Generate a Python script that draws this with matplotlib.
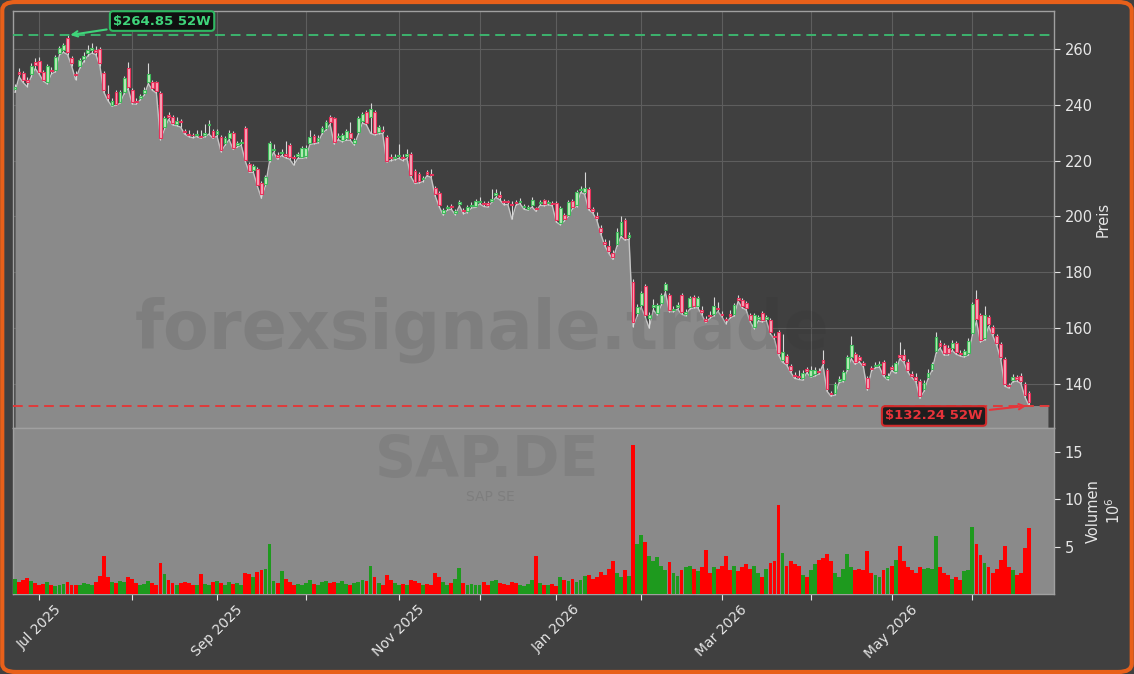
import matplotlib
matplotlib.use("Agg")
import matplotlib.pyplot as plt
from matplotlib.patches import FancyBboxPatch
import numpy as np

opens = [245.5,251.8,251.5,249.0,251.0,255.3,255.7,251.7,248.2,252.3,252.5,258.6,259.6,264.0,256.7,251.0,254.0,256.5,258.5,259.5,
259.5,260.0,251.4,244.0,240.0,244.6,241.0,244.6,253.2,245.3,241.5,242.5,244.2,248.2,248.0,248.0,244.2,232.0,236.3,235.6,
233.1,234.3,230.6,229.5,229.3,229.3,228.7,229.0,232.8,230.6,229.7,228.5,226.3,228.0,229.9,225.6,226.2,231.7,218.8,216.5,
217.0,212.0,211.6,220.2,223.8,222.0,222.8,222.2,225.6,221.3,221.5,221.3,221.5,226.3,228.8,227.0,230.3,231.7,235.6,235.3,
228.3,227.4,228.0,229.9,226.3,230.3,234.2,237.4,235.6,237.4,230.3,231.0,228.5,221.3,221.0,221.5,221.3,221.5,222.4,216.3,
215.2,213.3,215.8,215.2,210.2,208.4,201.1,203.0,203.8,201.2,204.6,202.3,202.0,203.8,203.7,205.3,204.7,204.7,205.5,207.5,
207.5,205.3,205.2,204.5,205.2,205.3,203.3,202.8,204.0,202.9,204.8,205.8,204.8,204.8,204.8,197.6,200.5,200.5,205.5,204.0,
209.5,208.7,209.8,202.5,200.3,196.0,190.8,189.5,187.0,190.0,193.5,198.7,192.5,176.5,165.4,168.2,175.0,163.6,167.6,165.4,
169.0,173.6,171.8,166.5,167.6,171.8,165.0,167.5,171.0,168.0,166.5,163.2,164.6,165.0,167.2,165.2,163.2,165.0,165.0,170.8,
170.0,169.0,164.7,160.4,163.3,165.4,163.3,162.9,157.3,158.6,148.5,150.0,146.3,143.2,142.7,142.0,145.3,143.0,143.5,144.8,
148.5,145.0,136.7,136.7,141.2,141.4,145.5,149.6,150.7,149.5,147.4,142.0,145.7,146.5,146.8,147.8,142.2,145.9,144.5,150.2,
150.5,148.0,143.5,142.5,141.0,138.0,142.5,145.5,151.7,154.8,153.9,153.0,152.8,154.8,151.2,150.3,151.0,158.2,170.4,164.7,
156.4,164.0,160.4,157.1,154.3,148.9,139.5,141.5,142.3,143.0,140.0,136.8]

closes = [246.5,251.0,249.0,248.0,254.0,254.3,251.7,249.0,253.9,252.0,257.1,260.3,261.4,259.0,255.0,250.5,256.0,257.5,259.5,260.5,
259.0,255.0,245.3,242.5,241.5,240.3,244.6,249.6,246.4,241.0,241.0,243.2,245.3,251.0,246.0,245.0,228.1,235.3,235.6,233.5,
234.2,234.0,230.3,229.3,229.0,229.7,228.5,229.8,233.2,228.5,230.6,223.8,228.0,229.9,224.5,226.3,226.8,220.2,216.3,218.0,
211.3,208.0,214.1,226.3,224.3,221.3,223.2,221.8,221.3,220.8,222.3,224.5,224.5,228.5,226.7,228.0,231.7,233.8,233.8,226.7,
228.7,229.2,230.6,228.0,227.4,235.3,236.7,233.5,238.5,229.9,232.0,230.5,220.0,220.8,221.3,222.0,220.8,222.3,214.8,212.3,
212.7,213.7,215.3,214.8,208.0,204.1,202.3,203.3,203.3,201.8,205.0,201.8,203.4,204.2,205.5,205.7,204.3,204.0,206.3,208.3,
206.8,205.0,205.0,204.0,204.8,205.7,203.8,203.3,206.0,202.5,205.2,204.4,205.2,204.4,198.7,203.0,199.0,205.2,203.4,208.7,
210.0,210.2,203.0,202.1,199.5,194.5,190.3,187.5,185.5,194.5,198.0,192.2,193.5,162.2,167.5,172.5,164.7,164.7,168.2,168.2,
171.8,175.8,166.5,167.0,168.2,165.7,165.9,170.8,167.9,170.8,165.8,162.7,164.3,168.0,166.8,164.8,162.9,164.3,168.2,170.2,
168.0,167.2,162.9,164.7,163.8,162.9,163.8,158.6,156.8,151.0,151.4,147.5,145.0,142.8,142.3,144.0,144.8,145.0,145.0,144.3,
147.5,138.0,136.3,140.0,141.7,144.2,149.5,153.9,147.8,148.6,146.9,138.5,145.2,146.9,147.2,143.5,142.8,145.5,147.6,149.8,
148.5,145.0,143.0,141.5,135.5,140.5,144.0,147.0,156.8,153.5,151.0,151.0,154.8,151.3,150.8,151.8,155.5,168.6,163.2,155.7,
164.7,161.4,158.2,154.6,149.6,139.9,139.2,142.5,141.8,141.0,136.0,133.5]

highs = [247.5,253.0,252.0,249.8,255.0,256.8,257.0,252.5,254.5,253.5,257.8,261.0,262.2,264.85,257.5,252.0,256.8,259.0,261.5,262.0,
261.0,260.8,252.0,247.0,242.3,245.2,245.3,250.3,255.5,246.0,242.3,244.0,246.2,255.0,248.8,248.5,244.8,236.0,237.3,236.2,
235.5,235.0,231.5,230.8,230.0,230.8,231.0,233.0,234.5,231.3,231.5,229.2,228.8,230.8,230.5,227.0,227.8,232.5,219.5,218.8,
217.8,212.6,214.8,227.0,226.0,223.0,224.0,227.0,226.2,222.0,223.0,225.2,225.5,231.0,229.5,229.0,232.5,234.6,236.3,235.8,
229.8,230.0,231.3,234.0,228.2,236.0,237.5,238.0,240.6,238.0,232.8,232.5,229.3,222.3,222.5,226.0,222.2,224.0,223.0,217.0,
215.8,214.5,216.5,217.0,211.0,209.0,203.0,204.2,204.6,202.6,206.0,203.0,204.0,205.0,206.2,206.8,205.5,205.6,210.0,210.0,
209.0,206.3,206.0,205.5,206.0,206.5,204.6,204.0,206.8,203.5,206.0,206.4,206.0,205.6,205.4,203.6,201.2,205.8,206.2,209.4,
211.0,216.0,210.5,203.5,201.5,196.8,191.8,191.5,188.0,196.0,200.0,199.5,194.3,177.5,168.5,173.3,175.8,165.8,170.5,169.0,
172.6,176.6,172.5,168.0,169.2,172.5,166.8,171.5,171.7,171.5,168.0,164.5,166.0,171.0,169.5,166.0,164.0,166.5,169.0,171.8,
170.8,169.8,165.5,165.5,164.8,166.2,164.8,163.6,158.3,159.3,158.0,150.8,147.0,144.2,145.0,145.0,146.2,146.5,146.0,145.8,
152.0,145.8,137.5,140.8,143.0,145.0,150.3,157.0,151.5,150.4,148.3,142.8,146.5,148.0,148.3,148.5,143.8,146.8,148.3,155.0,
152.5,148.8,144.8,143.8,141.8,141.3,145.5,148.0,158.5,155.6,154.6,153.8,155.6,155.5,152.0,152.6,156.3,169.5,173.6,165.5,
168.0,164.8,161.2,157.9,155.0,149.6,140.5,143.5,143.3,143.8,140.8,137.5]

lows = [244.5,250.0,248.0,246.5,250.0,253.0,251.0,248.5,247.5,251.0,251.8,257.8,258.8,258.0,254.0,249.0,253.0,255.5,257.5,258.5,
258.0,254.0,244.5,241.5,239.5,239.8,240.5,244.0,245.8,240.3,240.2,241.8,243.5,247.6,245.2,244.2,227.5,231.2,234.8,232.8,
232.5,232.0,229.5,228.6,228.2,228.6,228.0,228.5,229.5,228.0,228.8,223.2,225.5,227.5,224.0,224.8,225.5,219.8,215.8,215.8,
210.8,206.5,211.0,219.6,223.0,220.5,221.8,221.0,220.5,218.4,220.8,220.8,221.0,225.8,226.0,226.3,229.6,231.0,233.0,226.0,
227.5,226.8,227.3,227.3,225.6,229.6,233.5,232.8,229.8,229.2,229.6,229.8,219.5,220.0,220.3,220.8,220.0,220.8,214.2,211.8,
212.0,212.5,214.6,214.0,207.4,203.5,200.5,202.2,202.6,200.6,203.8,201.0,201.4,203.0,203.2,204.5,203.6,203.3,205.0,206.8,
206.0,204.2,204.3,199.0,204.0,204.6,202.6,202.2,203.4,201.8,204.0,203.8,204.2,203.8,198.0,197.0,198.4,200.0,202.8,203.5,
208.6,208.0,202.4,201.3,198.8,193.8,189.5,186.8,184.6,189.3,192.8,191.5,191.8,160.5,164.2,167.5,164.0,160.0,166.5,164.7,
168.3,172.8,165.8,165.8,166.8,165.0,164.3,166.8,167.2,167.3,164.8,162.0,163.5,164.3,166.0,164.0,161.5,163.6,164.3,169.6,
167.3,166.5,162.2,159.8,162.6,162.2,162.6,158.0,156.0,150.4,147.8,146.8,144.2,142.0,141.6,141.3,144.0,142.4,142.8,143.5,
146.8,137.4,135.6,136.0,140.5,140.8,144.8,149.0,147.0,147.9,146.2,137.8,144.5,145.8,146.0,142.8,141.5,144.8,143.8,149.0,
147.8,144.3,142.3,140.8,134.8,137.3,141.8,144.8,151.0,152.8,150.3,150.3,152.0,150.6,150.0,149.6,150.3,157.5,162.5,155.0,
155.7,160.6,157.5,153.9,148.9,139.2,138.5,140.8,141.0,140.2,135.3,132.24]

volumes = [1.6,1.3,1.5,1.7,1.4,1.2,0.9,1.1,1.3,1.0,0.8,1.0,1.1,1.3,1.0,0.9,1.0,1.2,1.1,0.9,
1.3,1.9,4.0,1.8,1.3,1.2,1.4,1.3,1.8,1.6,1.2,1.0,1.1,1.4,1.2,1.0,3.3,2.1,1.5,1.2,
1.0,1.2,1.3,1.2,1.0,0.9,2.1,1.1,1.0,1.3,1.4,1.2,1.0,1.3,1.1,1.2,1.0,2.2,2.1,1.8,
2.3,2.5,2.6,5.3,1.4,1.2,2.4,1.6,1.3,1.0,1.1,0.9,1.2,1.5,1.1,1.0,1.3,1.4,1.2,1.3,
1.2,1.4,1.1,1.0,1.2,1.3,1.5,1.4,3.0,1.8,1.2,1.0,2.0,1.5,1.2,1.0,1.1,1.0,1.5,1.4,
1.2,1.0,1.1,1.0,2.2,1.8,1.3,1.0,1.2,1.6,2.7,1.2,1.0,1.1,0.9,1.0,1.3,1.0,1.4,1.5,
1.2,1.1,1.0,1.3,1.2,1.0,0.8,1.1,1.5,4.0,1.2,1.0,0.9,1.1,0.8,1.8,1.5,1.4,1.6,1.3,
1.5,1.9,2.0,1.6,1.8,2.3,2.0,2.6,3.5,2.2,1.8,2.5,1.9,15.7,5.3,6.2,5.5,4.0,3.5,3.9,
3.0,2.5,3.4,2.2,1.9,2.5,2.8,3.0,2.6,2.4,2.8,4.6,2.2,2.8,2.6,3.0,4.0,2.5,3.0,2.4,
2.8,3.2,2.6,3.0,2.2,1.8,2.6,3.3,3.5,9.4,4.3,3.0,3.5,3.2,3.0,2.0,1.8,2.5,3.2,3.6,
3.8,4.2,3.5,2.2,1.8,2.6,4.2,2.8,2.5,2.6,2.5,4.5,2.2,2.0,1.8,2.5,2.7,3.0,3.6,5.1,
3.5,2.8,2.5,2.2,2.8,2.6,2.7,2.6,6.1,2.8,2.2,2.0,1.6,1.8,1.5,2.4,2.5,7.1,5.3,4.1,
3.3,2.8,2.2,2.6,3.6,5.1,2.8,2.5,2.0,2.2,4.8,7.0]

month_tick_idx = [6, 29, 50, 72, 95, 115, 134, 155, 175, 197, 217, 237]
month_labels = ['Jul 2025', '', 'Sep 2025', '', 'Nov 2025', '', 'Jan 2026', '', 'Mar 2026', '', 'May 2026', '']
high_52w = 264.85
low_52w = 132.24
high_52w_idx = 13
low_52w_idx = 251

BG = '#404040'
FILL = '#8a8a8a'
TXT = '#e6e6e6'

o = np.array(opens); c = np.array(closes); h = np.array(highs); l = np.array(lows)
v = np.array(volumes)
x = np.arange(len(o))
n = len(o)

fig = plt.figure(figsize=(11.34, 6.74), dpi=100, facecolor=BG)
ax = fig.add_axes([13/1134, 1-428/674, (1054-13)/1134, (428-11)/674])
axv = fig.add_axes([13/1134, 1-594/674, (1054-13)/1134, (594-428)/674], sharex=ax)

ax.set_facecolor(BG)
axv.set_facecolor(FILL)

ymin, ymax = 124.2, 273.6
ax.set_ylim(ymin, ymax)
ax.set_xlim(-0.5, 257.2)

ax.grid(True, color='#5e5e5e', lw=0.8, zorder=0)
ax.set_axisbelow(True)

# area fill along lows
xf = np.append(x, n - 1 + 4.7)
lf = np.append(l, l[-1])
ax.fill_between(xf, lf, ymin, color=FILL, zorder=2, lw=0)
ax.plot(x, l, color='#c4c4c4', lw=1.0, zorder=3)

# watermark
ax.text(0.451, 0.235, 'forexsignale.trade', transform=ax.transAxes, ha='center', va='center',
        fontsize=48, fontweight='bold', color='#303030', alpha=0.13, zorder=4)

# candles
up = c >= o
wick_col = '#d8d8d8'
ax.vlines(x, l, h, color=wick_col, lw=0.8, zorder=5)
body_h = np.maximum(np.abs(c - o), 0.35)
body_b = np.minimum(o, c)
ax.bar(x[up], body_h[up], bottom=body_b[up], width=0.7, color='#b8ecb8', edgecolor='#3dbb5a', lw=0.8, zorder=6)
ax.bar(x[~up], body_h[~up], bottom=body_b[~up], width=0.7, color='#f6a5b8', edgecolor='#e8305a', lw=0.8, zorder=6)

# 52w lines
ax.axhline(high_52w, color='#3cb46e', ls=(0, (5, 3)), lw=1.4, zorder=7)
ax.axhline(low_52w, color='#e03a3a', ls=(0, (5, 3)), lw=1.4, zorder=7)

ax.annotate(f'${high_52w:.2f} 52W', xy=(high_52w_idx, high_52w), xytext=(36.4, 270.0),
            ha='center', va='center', fontsize=9.5, fontweight='bold', color='#3fd47a',
            bbox=dict(boxstyle='round,pad=0.25', fc='#101010', ec='#2fb862', lw=1.5),
            arrowprops=dict(arrowstyle='->', color='#3fd47a', lw=1.5), zorder=10)
ax.annotate(f'${low_52w:.2f} 52W', xy=(low_52w_idx, low_52w), xytext=(227.5, 128.5),
            ha='center', va='center', fontsize=9.5, fontweight='bold', color='#e8333a',
            bbox=dict(boxstyle='round,pad=0.25', fc='#1e1e1e', ec='#d02a2a', lw=1.5),
            arrowprops=dict(arrowstyle='->', color='#e8333a', lw=1.5), zorder=10)

for a in (ax, axv):
    for s in a.spines.values():
        s.set_color('#a0a0a0')
        s.set_linewidth(1.0)
    a.yaxis.tick_right()
    a.yaxis.set_label_position('right')
    a.tick_params(colors=TXT, labelsize=10.5, length=4)

ax.set_yticks([140, 160, 180, 200, 220, 240, 260])
ax.set_ylabel('Preis', color=TXT, fontsize=10.5, labelpad=2)
ax.tick_params(axis='x', labelbottom=False, length=0)
ax.set_xticks(month_tick_idx)

# volume
vcol = np.where(up, '#1e9a1e', '#ff0000')
axv.bar(x, v, width=0.95, color=vcol, lw=0, zorder=3)
axv.set_ylim(0, 17.5)
axv.set_yticks([5, 10, 15])
axv.set_ylabel('Volumen\n$10^6$', color=TXT, fontsize=10.5, labelpad=2)
axv.set_xticks(month_tick_idx)
axv.set_xticklabels(month_labels, rotation=45, ha='center', color=TXT, fontsize=10)
axv.tick_params(axis='x', pad=2)
axv.text(0.455, 0.80, 'SAP.DE', transform=axv.transAxes, ha='center', va='center',
         fontsize=41, fontweight='bold', color='#808080', zorder=1)
axv.text(0.459, 0.585, 'SAP SE', transform=axv.transAxes, ha='center', va='center',
         fontsize=10, color='#7e7e7e', zorder=1)

fig.patches.append(FancyBboxPatch((0.002, 0.003), 0.996, 0.994, boxstyle='round,pad=0,rounding_size=0.012',
                                  transform=fig.transFigure, fc='none', ec='#e8601a', lw=3))

fig.savefig('out.png', dpi=100, facecolor=BG)
